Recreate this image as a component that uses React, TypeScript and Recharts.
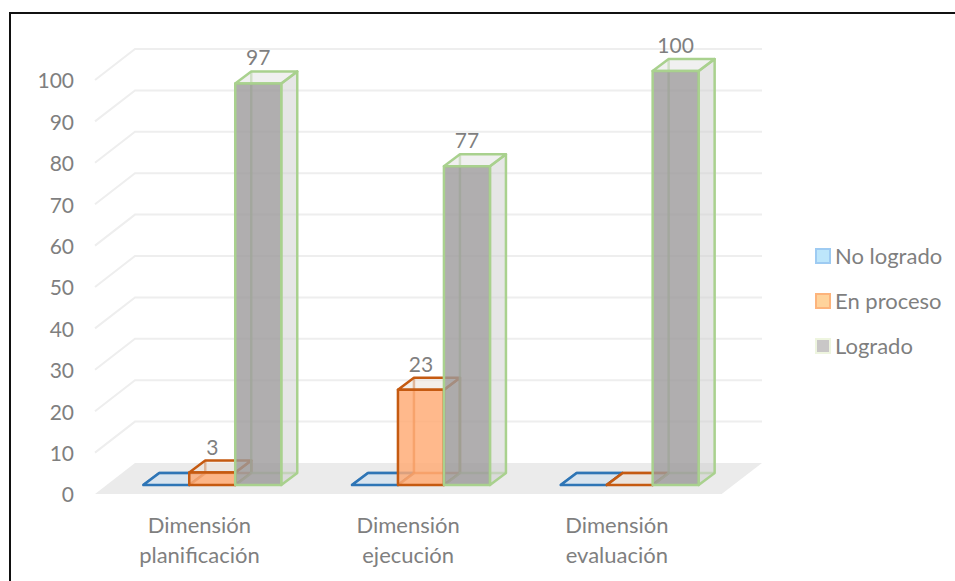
import { BarChart, Bar, XAxis, YAxis, CartesianGrid, Legend, LabelList } from 'recharts';

const categories = [['Dimensión', 'planificación'], ['Dimensión', 'ejecución'], ['Dimensión', 'evaluación']];
const noLogrado = [0, 0, 0];
const enProceso = [3, 23, 0];
const logrado = [97, 77, 100];
const yTicks = [0, 10, 20, 30, 40, 50, 60, 70, 80, 90, 100];

const data = categories.map((lines, i) => ({
  name: lines.join(' '),
  noLogrado: noLogrado[i],
  enProceso: enProceso[i],
  logrado: logrado[i],
}));

const FONT = 'Lato, sans-serif';
const TEXT = '#7f7f7f';
const PLOT_BOTTOM = 485;
// 3D look: bar depth, plus the front and back offsets of the walls from the bar plane
const DX = 16;
const DY = -12;
const WALL_FRONT = 9;
const WALL_BACK = -22;

const SERIES = {
  noLogrado: { stroke: '#2e75b6', front: 'rgba(189,215,238,0.8)', side: 'rgba(200,210,220,0.3)', top: 'rgba(214,226,238,0.6)' },
  enProceso: { stroke: '#c55a11', front: 'rgba(255,170,115,0.82)', side: 'rgba(200,190,180,0.25)', top: 'rgba(235,225,218,0.55)' },
  logrado: { stroke: '#a9d18e', front: 'rgba(156,154,155,0.8)', side: 'rgba(205,205,205,0.5)', top: 'rgba(225,225,225,0.5)' },
};

const LEGEND_SWATCH: Record<string, { fill: string; stroke: string }> = {
  'No logrado': { fill: '#bde6fb', stroke: '#9ecbf2' },
  'En proceso': { fill: '#ffd39b', stroke: '#fdb47c' },
  Logrado: { fill: '#c9c7c7', stroke: '#eef5df' },
};

const pts = (...p: number[][]) => p.map((c) => c.join(',')).join(' ');

const Prism = ({ x, y, width, height, look }: any) => {
  const r = x + width;
  const b = y + height;
  return (
    <g stroke={look.stroke} strokeWidth={2.5} strokeLinejoin="round">
      {/* floor and back edges first so they show through the front face */}
      <polygon points={pts([x, b], [r, b], [r + DX, b + DY], [x + DX, b + DY])} fill={look.top} stroke="none" />
      <polyline points={pts([x, b], [x + DX, b + DY], [r + DX, b + DY])} fill="none" strokeOpacity={0.75} />
      <line x1={x + DX} y1={b + DY} x2={x + DX} y2={y + DY} strokeOpacity={0.75} />
      <polygon points={pts([r, y], [r + DX, y + DY], [r + DX, b + DY], [r, b])} fill={look.side} />
      <polygon points={pts([x, y], [r, y], [r + DX, y + DY], [x + DX, y + DY])} fill={look.top} />
      <rect x={x} y={y} width={width} height={height} fill={look.front} />
    </g>
  );
};

const Floor = ({ x1, x2, y }: any) => (
  <polygon
    points={pts([x1 - 13.6, y + WALL_FRONT], [x1 + 26.4, y + WALL_BACK], [x2 + 27.3, y + WALL_BACK], [x2 - 13, y + WALL_FRONT])}
    fill="#ebebeb"
  />
);

// Each gridline runs along the side wall and then the back wall
const renderGridLine = (props: any) => {
  const { x1, x2, y1, key } = props;
  if (Math.abs(y1 - PLOT_BOTTOM) < 1) return <Floor key={key} x1={x1} x2={x2} y={y1} />;
  return (
    <polyline
      key={key}
      points={pts([x1 - 13.6, y1 + WALL_FRONT], [x1 + 26.4, y1 + WALL_BACK], [x2 + 27.3, y1 + WALL_BACK])}
      fill="none"
      stroke="#eeeeee"
      strokeWidth={2}
    />
  );
};

const CategoryTick = ({ x, y, payload }: any) => {
  const lines = categories[payload.index] ?? [];
  return (
    <text x={x - 13.5} y={y} textAnchor="middle" fontFamily={FONT} fontSize={22} fill={TEXT}>
      {lines.map((line, i) => (
        <tspan key={line} x={x - 13.5} dy={i === 0 ? 40 : 30}>
          {line}
        </tspan>
      ))}
    </text>
  );
};

const ValueTick = ({ y, payload }: any) => (
  <text x={74} y={y + 10} dy="0.35em" textAnchor="end" fontFamily={FONT} fontSize={21} fill={TEXT}>
    {payload.value}
  </text>
);

const LegendList = ({ payload }: any) => (
  <div style={{ fontFamily: FONT, fontSize: 22, color: TEXT, lineHeight: '45px' }}>
    {(payload ?? []).map((item: any) => {
      const swatch = LEGEND_SWATCH[item.value];
      return (
        <div key={item.value} style={{ display: 'flex', alignItems: 'center', height: 45, whiteSpace: 'nowrap' }}>
          <span
            style={{
              display: 'inline-block',
              boxSizing: 'border-box',
              width: 16,
              height: 16,
              marginRight: 4,
              background: swatch.fill,
              border: `2px solid ${swatch.stroke}`,
            }}
          />
          {item.value}
        </div>
      );
    })}
  </div>
);

const hideZero = (v: any) => (v === 0 ? '' : v);

export default function App() {
  return (
    <div style={{ position: 'absolute', left: 0, top: 0, width: 955, height: 581, background: '#fff', overflow: 'hidden' }}>
      <div
        style={{
          position: 'absolute',
          left: 9,
          top: 12,
          width: 946,
          height: 569,
          borderTop: '2px solid #111',
          borderLeft: '2px solid #111',
        }}
      />
      <BarChart
        width={955}
        height={581}
        data={data}
        barGap={0}
        barCategoryGap="16.6%"
        margin={{ top: 71, right: 220.3, bottom: 0, left: 0 }}
        style={{ position: 'absolute', left: 0, top: 0 }}
      >
        <CartesianGrid vertical={false} horizontal={renderGridLine} />
        <XAxis dataKey="name" height={96} axisLine={false} tickLine={false} interval={0} tick={<CategoryTick />} />
        <YAxis width={108.6} domain={[0, 100]} ticks={yTicks} axisLine={false} tickLine={false} tick={<ValueTick />} />
        <Legend
          layout="vertical"
          align="center"
          verticalAlign="middle"
          itemSorter={null}
          content={<LegendList />}
          wrapperStyle={{ left: 815, top: 233, width: 140, bottom: 'auto', right: 'auto' }}
        />
        <Bar dataKey="noLogrado" name="No logrado" isAnimationActive={false} shape={(p: any) => <Prism {...p} look={SERIES.noLogrado} />} />
        <Bar dataKey="enProceso" name="En proceso" isAnimationActive={false} shape={(p: any) => <Prism {...p} look={SERIES.enProceso} />}>
          <LabelList dataKey="enProceso" position="top" offset={18} formatter={hideZero} fontFamily={FONT} fontSize={21} fill={TEXT} />
        </Bar>
        <Bar dataKey="logrado" name="Logrado" isAnimationActive={false} shape={(p: any) => <Prism {...p} look={SERIES.logrado} />}>
          <LabelList dataKey="logrado" position="top" offset={18} fontFamily={FONT} fontSize={21} fill={TEXT} />
        </Bar>
      </BarChart>
    </div>
  );
}
